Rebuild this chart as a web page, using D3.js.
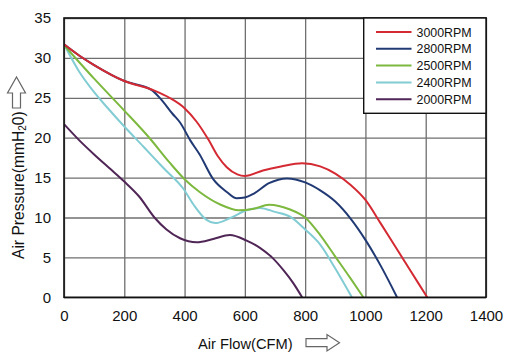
<!DOCTYPE html>
<html>
<head>
<meta charset="utf-8">
<script src="https://cdn.jsdelivr.net/npm/d3@7"></script>
<style>
  html, body { margin: 0; padding: 0; background: #fff; }
  svg { display: block; font-family: "Liberation Sans", Arial, sans-serif; }
</style>
</head>
<body>
<svg id="chart" width="523" height="361"></svg>
<script>
// ---- data ----
const seriesNames = ["3000RPM", "2800RPM", "2500RPM", "2400RPM", "2000RPM"];
const seriesColors = ["#d42a33", "#223a74", "#7db83f", "#82ccd3", "#4f2656"];

const flow3000 = [0, 50, 100, 200, 300, 350, 400, 440, 480, 510, 540, 575, 600, 660, 720, 790, 850, 900, 950, 1000, 1050, 1100, 1150, 1205];
const pres3000 = [31.7, 30.3, 29.1, 27.1, 25.9, 25.0, 23.7, 22.0, 19.7, 17.7, 16.3, 15.4, 15.2, 15.9, 16.4, 16.8, 16.4, 15.5, 14.1, 12.2, 9.3, 6.3, 3.3, 0];

const flow2800 = [0, 50, 100, 200, 290, 320, 360, 385, 420, 450, 495, 540, 573, 600, 630, 680, 740, 800, 850, 900, 950, 1000, 1050, 1105];
const pres2800 = [31.7, 30.3, 29.1, 27.1, 26.0, 24.9, 23.0, 21.9, 19.6, 17.9, 14.8, 13.2, 12.4, 12.5, 13.0, 14.3, 14.9, 14.4, 13.4, 12.0, 9.9, 7.2, 4.0, 0];

const flow2500 = [0, 100, 200, 285, 350, 400, 450, 520, 580, 630, 680, 750, 800, 850, 900, 950, 993];
const pres2500 = [31.6, 27.4, 23.4, 19.9, 16.9, 14.8, 13.2, 11.6, 10.9, 11.1, 11.6, 11.0, 10.0, 7.8, 5.1, 2.4, 0];

const flow2400 = [0, 50, 100, 150, 200, 263, 330, 396, 430, 473, 501, 550, 606, 650, 700, 750, 800, 850, 900, 955];
const pres2400 = [31.7, 28.3, 25.7, 23.5, 21.4, 18.9, 16.2, 13.6, 11.6, 9.7, 9.3, 9.9, 10.9, 11.2, 10.7, 10.1, 8.5, 6.6, 3.6, 0];

const flow2000 = [0, 50, 100, 150, 200, 250, 300, 340, 385, 440, 495, 550, 606, 650, 690, 730, 760, 790];
const pres2000 = [21.7, 19.7, 17.9, 16.2, 14.5, 12.6, 10.0, 8.5, 7.4, 6.9, 7.3, 7.8, 7.1, 6.2, 5.0, 3.3, 1.8, 0];

const xTicks = [0, 200, 400, 600, 800, 1000, 1200, 1400];
const yTicks = [0, 5, 10, 15, 20, 25, 30, 35];
const xTitle = "Air Flow(CFM)";
const yTitleMain = "Air Pressure(mmH";
const yTitleSub = "2";
const yTitleEnd = "0)";

// ---- build ----
const flows = [flow3000, flow2800, flow2500, flow2400, flow2000];
const pressures = [pres3000, pres2800, pres2500, pres2400, pres2000];
const series = seriesNames.map((name, i) => ({
  name, color: seriesColors[i],
  points: flows[i].map((f, j) => ({ f, p: pressures[i][j] }))
}));

const svg = d3.select("#chart");
const L = 64, R = 486, T = 18, B = 297.3;
const x = d3.scaleLinear().domain([0, 1400]).range([L, R]);
const y = d3.scaleLinear().domain([0, 35]).range([B, T]);

// grid
svg.append("g").attr("transform", `translate(0,${B})`)
  .call(d3.axisBottom(x).tickValues(xTicks).tickSize(-(B - T)).tickFormat(""))
  .call(g => g.select(".domain").remove())
  .call(g => g.selectAll("line").attr("stroke", "#6f6f6f").attr("stroke-width", 1.3));
svg.append("g").attr("transform", `translate(${L},0)`)
  .call(d3.axisLeft(y).tickValues(yTicks).tickSize(-(R - L)).tickFormat(""))
  .call(g => g.select(".domain").remove())
  .call(g => g.selectAll("line").attr("stroke", "#6f6f6f").attr("stroke-width", 1.3));

// tick labels
svg.append("g").attr("transform", `translate(0,${B})`)
  .call(d3.axisBottom(x).tickValues(xTicks).tickSize(0).tickPadding(13).tickFormat(d3.format("d")))
  .call(g => g.select(".domain").remove())
  .call(g => g.selectAll("text").attr("font-size", 15).attr("fill", "#111")
    .attr("font-family", "Liberation Sans, Arial, sans-serif"));
svg.append("g").attr("transform", `translate(${L},0)`)
  .call(d3.axisLeft(y).tickValues(yTicks).tickSize(0).tickPadding(13).tickFormat(d3.format("d")))
  .call(g => g.select(".domain").remove())
  .call(g => g.selectAll("text").attr("font-size", 15).attr("fill", "#111")
    .attr("font-family", "Liberation Sans, Arial, sans-serif"));

// clip
svg.append("clipPath").attr("id", "plotclip")
  .append("rect").attr("x", L).attr("y", T).attr("width", R - L).attr("height", B - T);

const line = d3.line()
  .x(d => x(d.f)).y(d => y(d.p))
  .curve(d3.curveMonotoneX);

svg.append("g").attr("clip-path", "url(#plotclip)")
  .selectAll("path").data(series.slice().reverse()).join("path")
  .attr("d", d => line(d.points))
  .attr("fill", "none")
  .attr("stroke", d => d.color)
  .attr("stroke-width", 2)
  .attr("stroke-linejoin", "round");

// frame
svg.append("rect").attr("x", L).attr("y", T).attr("width", R - L).attr("height", B - T)
  .attr("fill", "none").attr("stroke", "#111").attr("stroke-width", 1.6);

// legend
const lg = svg.append("g");
lg.append("rect").attr("x", 363.7).attr("y", T).attr("width", R - 363.7).attr("height", 113.3 - T)
  .attr("fill", "#fff").attr("stroke", "#111").attr("stroke-width", 1.4);
series.forEach((s, i) => {
  const cy = 32 + i * 16.8;
  lg.append("line").attr("x1", 376).attr("x2", 411.5).attr("y1", cy).attr("y2", cy)
    .attr("stroke", s.color).attr("stroke-width", 2);
  lg.append("text").attr("x", 416.5).attr("y", cy + 4.5)
    .attr("font-size", 12.4).attr("fill", "#111").text(s.name);
});

// x title and arrow
svg.append("text").attr("x", 198).attr("y", 348.5).attr("font-size", 14.7).attr("fill", "#111").text(xTitle);
svg.append("path")
  .attr("d", "M306,338.7 L327,338.7 L327,334.5 L339.5,342.7 L327,351 L327,346.7 L306,346.7 Z")
  .attr("fill", "#fff").attr("stroke", "#666").attr("stroke-width", 1.2);

// y title and arrow
const yt = svg.append("text")
  .attr("transform", "translate(24,259) rotate(-90)")
  .attr("font-size", 15.6).attr("fill", "#111");
yt.append("tspan").text(yTitleMain);
yt.append("tspan").attr("font-size", 10).attr("dy", 2).text(yTitleSub);
yt.append("tspan").attr("dy", -2).text(yTitleEnd);
svg.append("path")
  .attr("d", "M12.5,108 L12.5,93 L7.5,93 L16.5,77 L25.5,93 L20.5,93 L20.5,108 Z")
  .attr("fill", "#fff").attr("stroke", "#666").attr("stroke-width", 1.2);
</script>
</body>
</html>
